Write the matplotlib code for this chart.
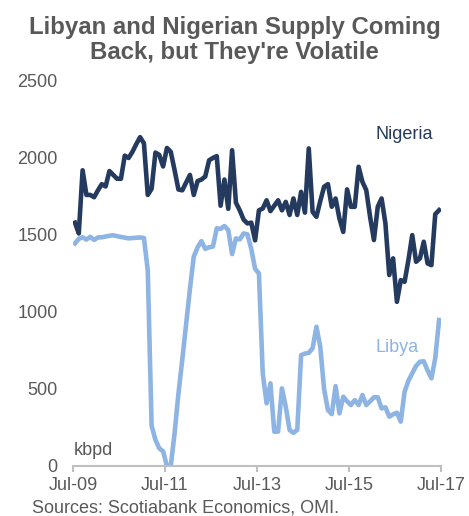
import numpy as np
import matplotlib.pyplot as plt

plt.rcParams['font.family'] = ['Liberation Sans', 'DejaVu Sans']

# monthly, Jul-09 .. Jun-17, kbpd
nigeria = [1580, 1510, 1920, 1760, 1760, 1745, 1790, 1830, 1815, 1915,
           1890, 1865, 1865, 2015, 2000, 2040, 2090, 2135, 2095, 1760,
           1800, 2035, 2020, 1945, 2065, 2040, 1920, 1795, 1790, 1840,
           1890, 1760, 1850, 1860, 1880, 1985, 2000, 2012, 1690, 1860,
           1670, 2050, 1710, 1660, 1600, 1575, 1580, 1465, 1660, 1672,
           1725, 1655, 1690, 1725, 1660, 1715, 1630, 1737, 1630, 1780,
           1645, 2062, 1650, 1618, 1720, 1813, 1830, 1683, 1737, 1607,
           1520, 1796, 1683, 1683, 1943, 1845, 1791, 1618, 1467, 1683,
           1737, 1575, 1240, 1348, 1066, 1207, 1196, 1337, 1499, 1326,
           1348, 1456, 1315, 1304, 1635, 1661]
libya = [1445, 1475, 1485, 1470, 1488, 1468, 1484, 1485, 1490, 1495,
         1498, 1492, 1487, 1483, 1478, 1480, 1482, 1484, 1480, 1270,
         260, 170, 115, 95, 0, 0, 214, 470, 690, 920,
         1150, 1360, 1420, 1460, 1410, 1420, 1425, 1543, 1540, 1558,
         1532, 1376, 1478, 1471, 1510, 1504, 1410, 1280, 1250, 600,
         407, 537, 223, 223, 504, 385, 234, 215, 235, 720,
         730, 735, 764, 904, 774, 500, 363, 337, 519, 342,
         450, 420, 396, 428, 396, 461, 396, 420, 446, 446,
         374, 381, 320, 335, 346, 288, 482, 554, 602, 650,
         677, 680, 620, 569, 700, 948]
tick_labels = ['Jul-09', 'Jul-11', 'Jul-13', 'Jul-15', 'Jul-17']
yticks = [0, 500, 1000, 1500, 2000, 2500]

navy = '#243A5E'
light = '#8EB4E3'
grey = '#595959'

months = np.arange(len(nigeria)) + 0.5

fig = plt.figure(figsize=(4.69, 5.16), dpi=100)
ax = fig.add_axes([0.1557, 0.0969, 0.7846, 0.7462])

ax.plot(months, libya, color=light, lw=3.3, solid_joinstyle='round')
ax.plot(months, nigeria, color=navy, lw=3.3, solid_joinstyle='round')

ax.set_xlim(0, 96)
ax.set_ylim(0, 2500)
ax.set_xticks(np.arange(0, 97, 24))
ax.set_xticklabels(tick_labels)
ax.set_yticks(yticks)
for s in ['left', 'right', 'top']:
    ax.spines[s].set_visible(False)
ax.spines['bottom'].set_color('#BFBFBF')
ax.spines['bottom'].set_linewidth(1.5)
ax.tick_params(axis='x', colors='#BFBFBF', labelcolor=grey, length=4, width=1.5,
               labelsize=13, pad=4)
ax.tick_params(axis='y', length=0, labelcolor=grey, labelsize=13, pad=11)

ax.text(79, 2150, 'Nigeria', color=navy, fontsize=13, ha='left', va='center')
ax.text(79, 770, 'Libya', color=light, fontsize=13, ha='left', va='center')
ax.text(0.3, 100, 'kbpd', color=grey, fontsize=13, ha='left', va='center')

fig.text(0.5, 0.923, 'Libyan and Nigerian Supply Coming\nBack, but They\'re Volatile',
         ha='center', va='center', fontsize=17.3, fontweight='bold', color=grey,
         linespacing=1.12)
fig.text(0.068, 0.015, 'Sources: Scotiabank Economics, OMI.', ha='left',
         va='center', fontsize=13, color=grey)

plt.savefig('out.png', dpi=100)
